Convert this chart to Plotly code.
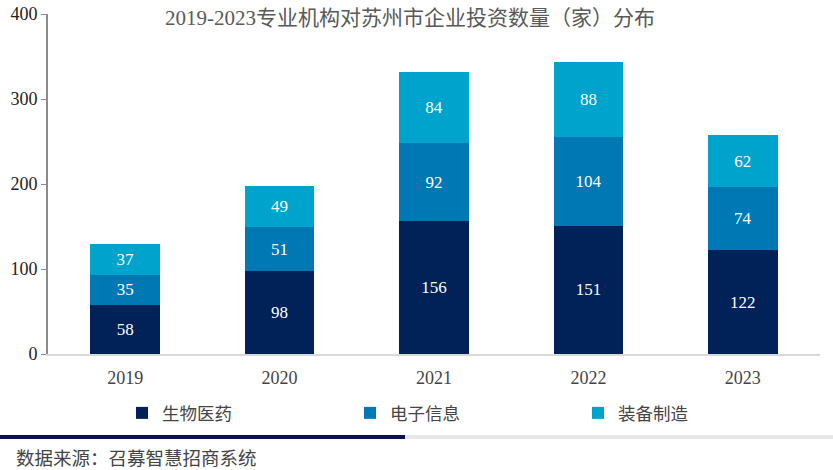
import plotly.graph_objects as go

years = ["2019", "2020", "2021", "2022", "2023"]
bio = [58, 98, 156, 151, 122]
elec = [35, 51, 92, 104, 74]
equip = [37, 49, 84, 88, 62]
names = ["生物医药", "电子信息", "装备制造"]
colors = ["#002258", "#0078b4", "#00a3cc"]

W, H = 833, 470
L, R, T, B = 48, 13, 14, 116
pw, ph = W - L - R, H - T - B
def px(x):
    return (x - L) / pw
def py(y):
    return (H - B - y) / ph

font = "Liberation Serif, Noto Sans CJK SC"
fig = go.Figure()
for vals, nm, c in zip([bio, elec, equip], names, colors):
    fig.add_trace(go.Bar(
        x=years, y=vals, name=nm, marker_color=c, marker_line_width=0,
        text=[str(v) for v in vals], textposition="inside",
        insidetextanchor="middle", constraintext="none", textangle=0,
        textfont=dict(color="white", size=17, family=font),
    ))

fig.update_layout(
    barmode="stack", bargap=0.55,
    width=W, height=H, margin=dict(l=L, r=R, t=T, b=B, autoexpand=False),
    paper_bgcolor="white", plot_bgcolor="white",
    font=dict(family=font, size=15, color="#333333"),
    title=dict(text="2019-2023专业机构对苏州市企业投资数量（家）分布",
               x=px(410), y=1 - 18 / H, xanchor="center", yanchor="middle",
               xref="paper",
               font=dict(size=21, color="#595959", family=font)),
    xaxis=dict(showline=True, linecolor="#d9d9d9", linewidth=2, ticks="",
               ticklabelstandoff=6,
               tickfont=dict(size=18, color="#444444")),
    yaxis=dict(range=[0, 400], dtick=100, showline=True, linecolor="#8c8c8c",
               linewidth=2, ticks="outside", ticklen=5, tickcolor="#8c8c8c",
               showgrid=False, zeroline=False,
               tickfont=dict(size=18, color="#222222")),
    legend=dict(orientation="h", x=px(122), y=py(413), yanchor="middle",
                xanchor="left", entrywidth=183, entrywidthmode="pixels",
                font=dict(size=17.5, color="#444444"), traceorder="normal"),
    showlegend=True,
)
fig.add_shape(type="line", xref="paper", yref="paper", x0=px(0), x1=px(405),
              y0=py(437), y1=py(437), line=dict(color="#0a1050", width=4))
fig.add_shape(type="line", xref="paper", yref="paper", x0=px(405), x1=px(833),
              y0=py(437), y1=py(437), line=dict(color="#e6e6e6", width=4))
fig.add_annotation(text="数据来源：召募智慧招商系统", xref="paper", yref="paper",
                   x=px(14), y=py(459), xanchor="left", yanchor="middle",
                   showarrow=False, font=dict(size=18.5, color="#444444", family=font))
fig.write_html("out.html", config={"displayModeBar": False},
               post_script="document.body.style.margin='0';")
